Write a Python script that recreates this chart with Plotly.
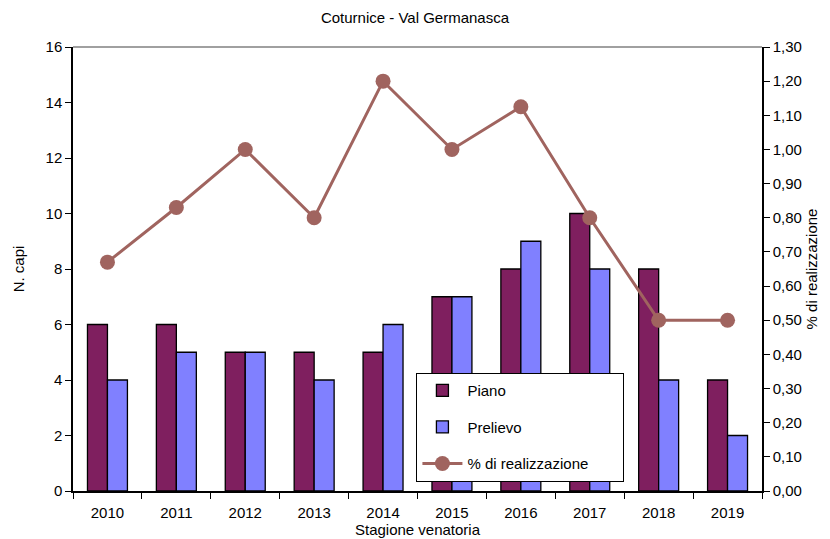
import plotly.graph_objects as go

# Stagioni venatorie e dati
stagioni = ["2010", "2011", "2012", "2013", "2014", "2015", "2016", "2017", "2018", "2019"]
piano = [6, 6, 5, 5, 5, 7, 8, 10, 8, 4]
prelievo = [4, 5, 5, 4, 6, 7, 9, 8, 4, 2]
realizzazione = [0.67, 0.83, 1.00, 0.80, 1.20, 1.00, 1.125, 0.80, 0.50, 0.50]

FONT = "Arial, Liberation Sans, Helvetica, sans-serif"
NBSP = "\u00a0"

fig = go.Figure()
fig.add_trace(go.Bar(
    x=stagioni, y=piano, name="Piano", legendgroup="a",
    marker=dict(color="#7F1F5F", line=dict(color="black", width=1.3)),
))
fig.add_trace(go.Bar(
    x=stagioni, y=prelievo, name="Prelievo", legendgroup="b",
    marker=dict(color="#8080FF", line=dict(color="black", width=1.3)),
))
fig.add_trace(go.Scatter(
    x=stagioni, y=realizzazione, name="% di realizzazione" + NBSP * 7, yaxis="y2",
    legendgroup="c", mode="lines+markers",
    line=dict(color="#A0645F", width=3),
    marker=dict(color="#A0645F", size=15),
))

fig.update_layout(
    width=830, height=539,
    margin=dict(l=73, r=68, t=47, b=48, autoexpand=False),
    paper_bgcolor="white", plot_bgcolor="white",
    font=dict(family=FONT, size=15, color="black"),
    separators=",.",
    title=dict(text="Coturnice - Val Germanasca", x=0.5, xanchor="center",
               y=1 - 18 / 539, yanchor="middle", font=dict(size=15)),
    barmode="group", bargap=0.42, bargroupgap=0,
    xaxis=dict(
        type="category", range=[-0.5, len(stagioni) - 0.5],
        showline=True, linecolor="black", linewidth=1.5,
        ticks="outside", tickson="boundaries", ticklen=6, tickcolor="black",
        showgrid=False, automargin=False, ticklabelstandoff=7,
        title=dict(text="Stagione venatoria", standoff=0, font=dict(size=15)),
    ),
    yaxis=dict(
        range=[0, 16], dtick=2, showgrid=False, zeroline=False,
        showline=True, linecolor="black", linewidth=1.5, automargin=False,
        ticks="outside", ticklen=6, tickcolor="black",
        title=dict(text="N. capi", standoff=17, font=dict(size=15)),
    ),
    yaxis2=dict(
        overlaying="y", side="right", range=[0, 1.3], dtick=0.1,
        tickformat=".2f", showgrid=False, zeroline=False, automargin=False,
        showline=True, linecolor="black", linewidth=1.5,
        ticks="outside", ticklen=6, tickcolor="black",
        title=dict(text="% di realizzazione", standoff=6, font=dict(size=15)),
    ),
    legend=dict(
        x=0.498, y=0.266, xanchor="left", yanchor="top",
        bgcolor="white", bordercolor="black", borderwidth=1.3,
        font=dict(size=15), tracegroupgap=14, itemwidth=40,
    ),
    showlegend=True,
)

# bordo superiore dell'area del grafico
fig.add_shape(type="line", xref="paper", yref="paper", x0=0, x1=1, y0=1, y1=1,
              line=dict(color="#808080", width=1.5))

fig.write_html("out.html")
